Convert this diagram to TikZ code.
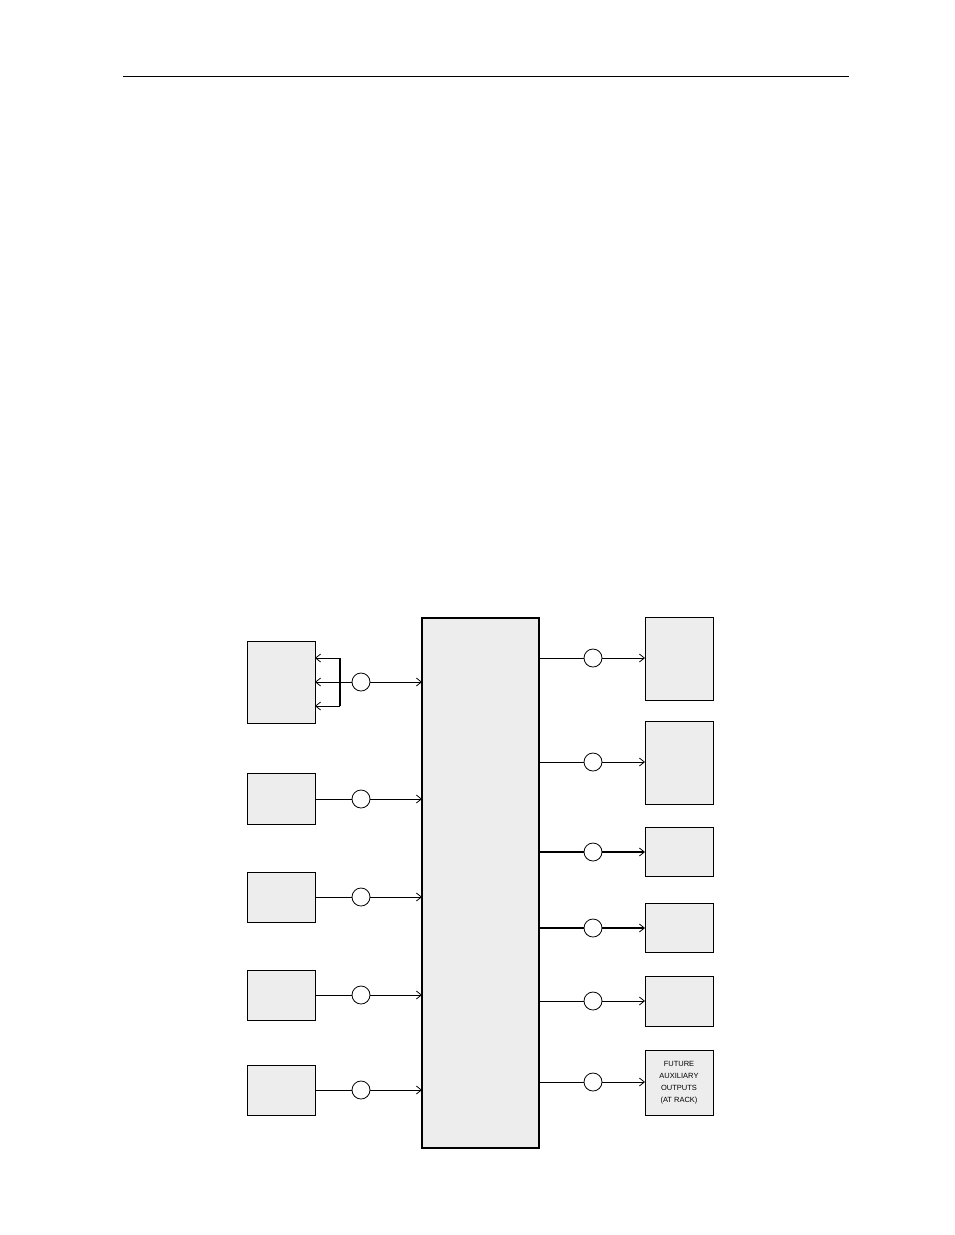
\documentclass[tikz,border=0pt]{standalone}
\usepackage{fontspec}
\setsansfont{Liberation Sans}
\usetikzlibrary{arrows.meta}
\definecolor{boxfill}{HTML}{EDEDED}
\begin{document}
\begin{tikzpicture}[x=1pt,y=-1pt,
  blk/.style={draw=black,fill=boxfill,line width=0.8pt,inner sep=0pt,outer sep=0pt,minimum width=68pt},
  mainblk/.style={draw=black,fill=boxfill,line width=1.6pt,inner sep=0pt,outer sep=0pt,minimum width=117pt,minimum height=530pt},
  ring/.style={draw=black,fill=white,circle,line width=0.8pt,minimum size=18pt,inner sep=0pt},
  sig/.style={line width=0.8pt,-{Straight Barb[length=5pt,width=8pt]}},
  sigplain/.style={line width=0.8pt},
  heavysig/.style={line width=1.6pt,-{Straight Barb[length=5pt,width=8pt,line width=0.8pt]}}
]
\useasboundingbox (0,0) rectangle (954,1235);
% top rule
\coordinate (ruleL) at (123,76);
\coordinate (ruleR) at (849,76);
\draw[line width=1pt] (ruleL) -- (ruleR);

% main block
\node[mainblk] (C) at (480.5,883) {};

% left blocks
\node[blk,minimum height=82pt] (L1) at (281,682) {};
\node[blk,minimum height=51pt] (L2) at (281,798.5) {};
\node[blk,minimum height=50pt] (L3) at (281,897) {};
\node[blk,minimum height=50pt] (L4) at (281,995) {};
\node[blk,minimum height=50pt] (L5) at (281,1090) {};

% right blocks
\node[blk,minimum height=83pt] (R1) at (679,658.5) {};
\node[blk,minimum height=83pt] (R2) at (679,762.5) {};
\node[blk,minimum height=49pt] (R3) at (679,851.5) {};
\node[blk,minimum height=49pt] (R4) at (679,927.5) {};
\node[blk,minimum height=50pt] (R5) at (679,1001) {};
\node[blk,minimum height=65pt,align=center,font=\sffamily\fontsize{7.5pt}{12pt}\selectfont] (R6) at (679,1082.5)
  {FUTURE\\AUXILIARY\\OUTPUTS\\(AT RACK)};

% left circles
\node[ring] (c1) at (361,682) {};
\node[ring] (c2) at (361,799) {};
\node[ring] (c3) at (361,897) {};
\node[ring] (c4) at (361,995) {};
\node[ring] (c5) at (361,1090) {};

% right circles
\node[ring] (d1) at (593,658) {};
\node[ring] (d2) at (593,762) {};
\node[ring] (d3) at (593,852) {};
\node[ring] (d4) at (593,928) {};
\node[ring] (d5) at (593,1001) {};
\node[ring] (d6) at (593,1082) {};

% bracket on L1
\coordinate (bt) at (340,658);
\coordinate (bm) at (340,682);
\coordinate (bb) at (340,706);
\draw[line width=1.6pt] (bt) -- (bb);
\draw[sig] (bt) -- (L1.east |- bt);
\draw[sig] (c1) -- (L1.east |- c1);
\draw[sig] (bb) -- (L1.east |- bb);
\draw[sig] (c1) -- (C.west |- c1);

% left inputs
\draw[sigplain] (L2.east |- c2) -- (c2);
\draw[sig] (c2) -- (C.west |- c2);
\draw[sigplain] (L3.east |- c3) -- (c3);
\draw[sig] (c3) -- (C.west |- c3);
\draw[sigplain] (L4.east |- c4) -- (c4);
\draw[sig] (c4) -- (C.west |- c4);
\draw[sigplain] (L5.east |- c5) -- (c5);
\draw[sig] (c5) -- (C.west |- c5);

% right outputs
\draw[sigplain] (C.east |- d1) -- (d1);
\draw[sig] (d1) -- (R1.west |- d1);
\draw[sigplain] (C.east |- d2) -- (d2);
\draw[sig] (d2) -- (R2.west |- d2);
\draw[line width=1.6pt] (C.east |- d3) -- (d3);
\draw[heavysig] (d3) -- (R3.west |- d3);
\draw[line width=1.6pt] (C.east |- d4) -- (d4);
\draw[heavysig] (d4) -- (R4.west |- d4);
\draw[sigplain] (C.east |- d5) -- (d5);
\draw[sig] (d5) -- (R5.west |- d5);
\draw[sigplain] (C.east |- d6) -- (d6);
\draw[sig] (d6) -- (R6.west |- d6);
\end{tikzpicture}
\end{document}
